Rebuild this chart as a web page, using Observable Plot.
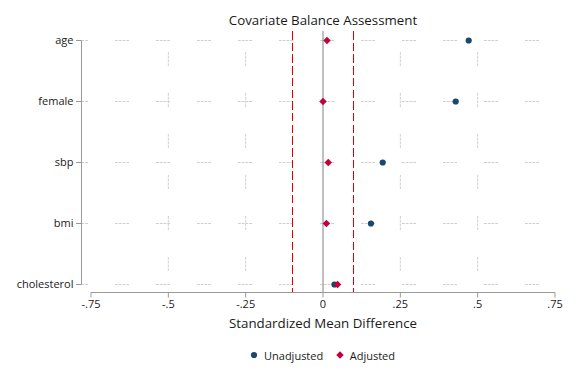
<!DOCTYPE html>
<html><head><meta charset="utf-8">
<script src="https://cdn.jsdelivr.net/npm/d3@7"></script>
<script src="https://cdn.jsdelivr.net/npm/@observablehq/plot@0.6"></script>
<style>
body{margin:0;background:#fff;font-family:'Open Sans',sans-serif;color:#1a1a1a;}
#legend{display:flex;justify-content:center;align-items:center;height:30px;width:576px;box-sizing:border-box;padding-left:81.5px;padding-right:12.5px;font-size:11px;}
.item{display:flex;align-items:center;}
.item svg{margin-right:6px;}
.item + .item{margin-left:12.5px;}
</style></head><body><div id="chart"></div><div id="legend"></div>
<script>
const covariates = ["age", "female", "sbp", "bmi", "cholesterol"];
const unadjusted = [0.471, 0.429, 0.193, 0.155, 0.037];
const adjusted = [0.013, 0.000, 0.017, 0.011, 0.047];
const xTicks = [-0.75, -0.5, -0.25, 0, 0.25, 0.5, 0.75];
const xTickLabels = ["-.75", "-.5", "-.25", "0", ".25", ".5", ".75"];
const gridX = [-0.5, -0.25, 0.25, 0.5];
const thresholds = [-0.1, 0.1];
const seriesNames = ["Unadjusted", "Adjusted"];
const seriesColors = ["#1a476f", "#c4003a"];
const seriesSymbols = ["circle", "diamond2"];
const titleText = "Covariate Balance Assessment";
const xLabel = "Standardized Mean Difference";

const W = 576, H = 340, mL = 81.5, mR = 12.5, mT = 31, mB = 47.5;
const gridDash = "2.75,1,2.75,1,2.75,1,2.75,27";

const plot = Plot.plot({
  width: W, height: H,
  marginLeft: mL, marginRight: mR, marginTop: mT, marginBottom: mB,
  style: {fontFamily: "'Open Sans', sans-serif", fontSize: "11px", color: "#1a1a1a", background: "#fff", overflow: "visible"},
  x: {domain: [xTicks[0], xTicks[xTicks.length - 1]], range: [90.5, 554.5]},
  y: {type: "point", domain: covariates, range: [39.5, 285], padding: 0},
  marks: [
    Plot.ruleY(covariates, {y: d => d, stroke: "#cfcfcf", strokeDasharray: gridDash, strokeDashoffset: 7.5}),
    Plot.ruleX(gridX, {x: d => d, stroke: "#cfcfcf", strokeDasharray: gridDash, strokeDashoffset: 20}),
    Plot.ruleX([0], {x: d => d, stroke: "#808080"}),
    Plot.ruleX(thresholds, {x: d => d, stroke: "#e00000", strokeWidth: 1, strokeDasharray: "8.5,3.2", shapeRendering: "crispEdges"}),
    Plot.axisX({ticks: xTicks, tickFormat: d => xTickLabels[xTicks.indexOf(d)], tickSize: 5, tickPadding: 2, stroke: "#999", fill: "#1a1a1a", label: null, fontSize: 11}),
    Plot.axisY({tickSize: 5.5, tickPadding: 3, stroke: "#999", fill: "#1a1a1a", label: null, fontSize: 11}),
    Plot.dot(covariates, {x: (d, i) => unadjusted[i], y: d => d, r: 3.1, fill: seriesColors[0], symbol: seriesSymbols[0]}),
    Plot.dot(covariates, {x: (d, i) => adjusted[i], y: d => d, r: 3.4, fill: seriesColors[1], symbol: seriesSymbols[1]}),
    Plot.text([titleText], {frameAnchor: "top", lineAnchor: "middle", dy: -11, fontSize: 13.3}),
    Plot.text([xLabel], {frameAnchor: "bottom", lineAnchor: "middle", dy: 31, fontSize: 13.3})
  ]
});

const sx = plot.scale("x"), sy = plot.scale("y");
const svg = d3.select(plot);
svg.append("line")
  .attr("x1", mL).attr("x2", mL)
  .attr("y1", sy.apply(covariates[0]) + 0.5).attr("y2", sy.apply(covariates[covariates.length - 1]) + 0.5)
  .attr("stroke", "#999");
svg.append("line")
  .attr("x1", sx.apply(xTicks[0]) + 0.5).attr("x2", sx.apply(xTicks[xTicks.length - 1]) + 0.5)
  .attr("y1", H - mB).attr("y2", H - mB)
  .attr("stroke", "#999");

document.getElementById("chart").appendChild(plot);

const legend = d3.select("#legend");
seriesNames.forEach((name, i) => {
  const item = legend.append("div").attr("class", "item");
  const s = item.append("svg").attr("width", 8).attr("height", 10);
  const sym = seriesSymbols[i] === "circle" ? d3.symbolCircle : d3.symbolDiamond2;
  const r = i === 0 ? 3.1 : 3.4;
  s.append("path").attr("transform", "translate(4,5)")
    .attr("d", d3.symbol(sym, Math.PI * r * r)())
    .attr("fill", seriesColors[i]);
  item.append("span").text(name);
});
</script>
</body></html>
